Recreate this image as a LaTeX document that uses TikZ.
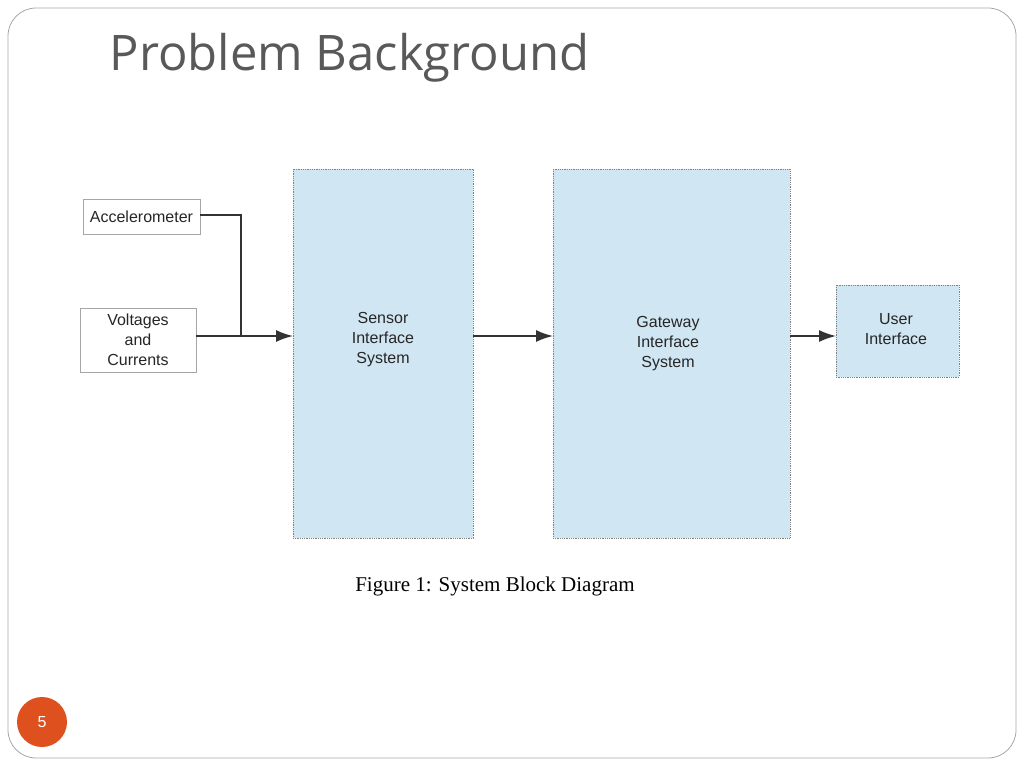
\documentclass[tikz,border=0pt]{standalone}
\usepackage{fontspec}
\usetikzlibrary{arrows.meta}
\setmainfont{Liberation Serif}
\newfontfamily\boxfont{Liberation Sans}
\newfontfamily\titlefont{Open Sans}
\definecolor{lblue}{RGB}{208,230,243}
\definecolor{orng}{RGB}{222,80,30}
\begin{document}
\begin{tikzpicture}[x=1pt,y=-1pt,
  blk/.style={draw=gray,densely dotted,fill=lblue,line width=0.8pt},
  wbox/.style={draw=gray!70,fill=white,line width=1pt},
  lbl/.style={font=\boxfont\fontsize{16}{20}\selectfont,align=center,text=black!85},
  con/.style={line width=1.6pt,black!80},
  arr/.style={con,-{Latex[length=17pt,width=12pt]}}]
\useasboundingbox (0,0) rectangle (1024,768);
\draw[gray!70,line width=0.8pt,rounded corners=28] (8,8) rectangle (1016,758);
\node[anchor=west,text=black!65,font=\titlefont\fontsize{49}{55}\selectfont] (title) at (106,58) {Problem Background};
\draw[wbox] (83,199) rectangle (200,234);
\node[lbl] (acc) at (141.5,216.5) {Accelerometer};
\draw[wbox] (80,308) rectangle (196,372);
\node[lbl] (vc) at (138,340) {Voltages\\and\\Currents};
\draw[blk] (293,169) rectangle (473,538);
\node[lbl] (sis) at (383,340) {Sensor\\Interface\\System};
\draw[blk] (553,169) rectangle (790,538);
\node[lbl] (gis) at (668,344) {Gateway\\Interface\\System};
\draw[blk] (836,285) rectangle (959,377);
\node[lbl] (ui) at (896,329) {User\\Interface};
\coordinate (aE) at (200,215);
\coordinate (j) at (241,336);
\coordinate (vE) at (196,336);
\coordinate (sW) at (293,336);
\coordinate (sE) at (473,336);
\coordinate (gW) at (553,336);
\coordinate (gE) at (790,336);
\coordinate (uW) at (836,336);
\draw[con] (aE) -| (j);
\draw[arr] (vE) -- (sW);
\draw[arr] (sE) -- (gW);
\draw[arr] (gE) -- (uW);
\node[font=\fontsize{21}{24}\selectfont] (cap) at (495,586) {Figure 1: System Block Diagram};
\node[circle,fill=orng,minimum size=50pt,inner sep=0,text=white,font=\boxfont\fontsize{16}{19}\selectfont] (pg) at (42,722) {5};
\end{tikzpicture}
\end{document}
